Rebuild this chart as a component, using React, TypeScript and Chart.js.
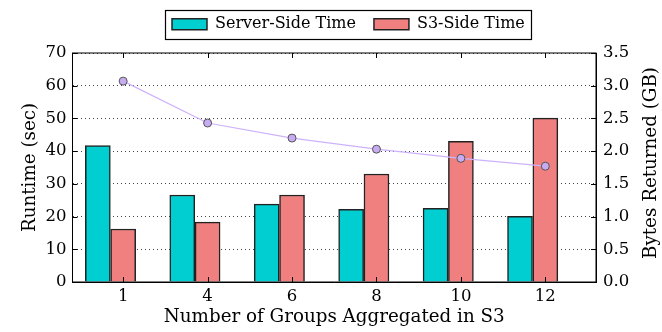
import React, { useEffect, useRef } from "react";
import { Chart, registerables } from "chart.js";

Chart.register(...registerables);

const groups = ["1", "4", "6", "8", "10", "12"];
const serverSideTime = [41.7, 26.6, 23.8, 22.2, 22.5, 20.1];
const s3SideTime = [16.2, 18.3, 26.6, 33.0, 43.0, 50.1];
const bytesReturnedGB = [3.07, 2.43, 2.2, 2.03, 1.89, 1.77];
const rightAxisTitle = "Bytes Returned (GB)";

const FONT = "'DejaVu Serif', serif";
const LEG_PAD = 18;
const X_MIN = -0.6;
const X_MAX = 5.6;
// bar width in category units; the server bar sits one bar-width left of the tick
const BAR_W = 0.3;

const framePlugin = {
  id: "frame",
  afterLayout(chart: any) {
    const lg = chart.legend;
    if (lg) {
      const w = lg.right - lg.left;
      const h = lg.bottom - lg.top;
      lg.left = 172 - LEG_PAD;
      lg.right = lg.left + w;
      lg.top = 16.2 - LEG_PAD;
      lg.bottom = lg.top + h;
    }
  },
  afterDraw(chart: any) {
    const { ctx, chartArea } = chart;
    const { left, right, top, bottom } = chartArea;
    ctx.save();
    ctx.strokeStyle = "#000";
    ctx.lineWidth = 1;
    ctx.strokeRect(left, top, right - left, bottom - top);
    const x = chart.scales.x;
    const y = chart.scales.y;
    const y1 = chart.scales.y1;
    ctx.beginPath();
    groups.forEach((_, i) => {
      const px = Math.round(x.getPixelForValue(i)) + 0.5;
      ctx.moveTo(px, top);
      ctx.lineTo(px, top + 5);
      ctx.moveTo(px, bottom);
      ctx.lineTo(px, bottom - 5);
    });
    for (let v = 0; v <= 70; v += 10) {
      const py = Math.round(y.getPixelForValue(v)) + 0.5;
      ctx.moveTo(left, py);
      ctx.lineTo(left + 5, py);
    }
    for (let v = 0; v <= 3.5; v += 0.5) {
      const py = Math.round(y1.getPixelForValue(v)) + 0.5;
      ctx.moveTo(right, py);
      ctx.lineTo(right - 5, py);
    }
    ctx.stroke();
    // legend frame
    const lg = chart.legend;
    if (lg && lg.legendHitBoxes && lg.legendHitBoxes.length) {
      const boxes = lg.legendHitBoxes;
      let l = Infinity, r = -Infinity, t = Infinity;
      boxes.forEach((hb: any) => {
        l = Math.min(l, hb.left);
        r = Math.max(r, hb.left + hb.width);
        t = Math.min(t, hb.top);
      });
      ctx.lineWidth = 1.2;
      ctx.strokeRect(Math.round(l - 7.5) + 0.5, Math.round(t - 6) + 0.5, Math.round(r - l + 13), 29);
    }
    // right axis title (reads bottom to top)
    ctx.fillStyle = "#000";
    ctx.font = `18.3px ${FONT}`;
    ctx.textAlign = "center";
    ctx.textBaseline = "middle";
    ctx.translate(651, 163);
    ctx.rotate(-Math.PI / 2);
    ctx.fillText(rightAxisTitle, 0, 0);
    ctx.restore();
  },
};

export default function App() {
  const ref = useRef<HTMLCanvasElement | null>(null);
  useEffect(() => {
    if (!ref.current) return;
    const chart = new Chart(ref.current, {
      type: "bar",
      data: {
        datasets: [
          {
            type: "bar",
            label: "Server-Side Time",
            data: serverSideTime.map((v, i) => ({ x: i - BAR_W, y: v })),
            backgroundColor: "#00CED1",
            borderColor: "#222",
            borderWidth: 1.5,
            barThickness: 25,
            grouped: false,
            yAxisID: "y",
            order: 1,
          },
          {
            type: "bar",
            label: "S3-Side Time",
            data: s3SideTime.map((v, i) => ({ x: i, y: v })),
            backgroundColor: "#F08080",
            borderColor: "#222",
            borderWidth: 1.5,
            barThickness: 25,
            grouped: false,
            yAxisID: "y",
            order: 1,
          },
          {
            type: "line",
            label: "Bytes Returned",
            data: bytesReturnedGB.map((v, i) => ({ x: i, y: v })),
            borderColor: "#cdb2fb",
            borderWidth: 1.2,
            pointBackgroundColor: "#c8acf2",
            pointBorderColor: "#555",
            pointBorderWidth: 1,
            pointRadius: 4,
            yAxisID: "y1",
            order: 0,
          } as any,
        ],
      },
      options: {
        responsive: false,
        animation: false,
        devicePixelRatio: 1,
        layout: { padding: { top: 53 - (16 + LEG_PAD + 10), left: 0, right: 0, bottom: 0 } },
        plugins: {
          tooltip: { enabled: false },
          legend: {
            position: "top",
            align: "start",
            labels: {
              filter: (item: any) => item.datasetIndex < 2,
              boxWidth: 35,
              boxHeight: 11,
              color: "#000",
              font: { family: FONT, size: 16 },
              padding: LEG_PAD,
            },
          },
        },
        scales: {
          x: {
            type: "linear",
            bounds: "data",
            min: X_MIN,
            max: X_MAX,
            offset: false,
            position: "bottom",
            grid: { display: false, drawTicks: false, offset: false },
            border: { display: true, color: "#000" },
            afterBuildTicks: (axis: any) => {
              axis.ticks = groups.map((_, i) => ({ value: i }));
            },
            afterFit: (s: any) => {
              s.height = 50;
            },
            ticks: {
              color: "#000",
              font: { family: FONT, size: 16.5 },
              padding: 5,
              maxRotation: 0,
              autoSkip: false,
              callback: (v: any) => groups[Math.round(Number(v))] ?? "",
            },
            title: {
              display: true,
              text: "Number of Groups Aggregated in S3",
              color: "#000",
              font: { family: FONT, size: 18.3 },
              padding: { top: 0, bottom: 4.2 },
            },
          },
          y: {
            type: "linear",
            position: "left",
            min: 0,
            max: 70,
            afterFit: (s: any) => {
              s.width = 72.5;
            },
            ticks: {
              stepSize: 10,
              color: "#000",
              font: { family: FONT, size: 16.5 },
              padding: 6,
            },
            grid: {
              color: "#444",
              lineWidth: 1,
              drawTicks: false,
            },
            border: { display: true, color: "#000", dash: [1, 3] },
            title: {
              display: true,
              text: "Runtime (sec)",
              color: "#000",
              font: { family: FONT, size: 18.3 },
              padding: { top: 19, bottom: 0 },
            },
          },
          y1: {
            type: "linear",
            position: "right",
            min: 0,
            max: 3.5,
            afterFit: (s: any) => {
              s.width = 66;
            },
            ticks: {
              stepSize: 0.5,
              color: "#000",
              font: { family: FONT, size: 16.5 },
              padding: 7,
              callback: (v: any) => Number(v).toFixed(1),
            },
            grid: { display: false, drawTicks: false },
            border: { display: true, color: "#000" },
            title: { display: false },
          },
        },
      } as any,
      plugins: [framePlugin],
    });
    return () => chart.destroy();
  }, []);
  return (
    <div style={{ position: "absolute", left: 0, top: 0, width: 662, height: 332, background: "#fff" }}>
      <canvas ref={ref} width={662} height={332} />
    </div>
  );
}
